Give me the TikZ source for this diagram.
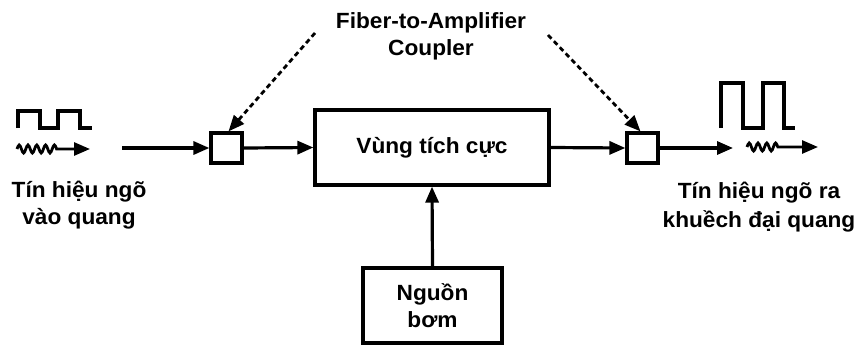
\documentclass[tikz,border=0pt]{standalone}
\usepackage{fontspec}
\setmainfont{Liberation Sans}[FakeStretch=1.03]
\usetikzlibrary{arrows.meta}
\begin{document}
\begin{tikzpicture}[x=1pt,y=-1pt,
  every node/.style={font=\fontsize{22}{27}\selectfont\bfseries},
  boxst/.style={draw,line width=3.2pt,inner sep=0pt},
  ln/.style={line width=3.2pt},
  arr/.style={ln,-{Triangle[length=16pt,width=13pt]}},
  darr/.style={line width=2.8pt,dash pattern=on 5pt off 3.5pt,-{Triangle[length=16pt,width=13pt]}},
  sq/.style={line width=2.8pt,-{Triangle[length=16pt,width=13pt]}},
  lbl/.style={align=center,inner sep=0pt}]
\useasboundingbox (0,0) rectangle (858,345);
% boxes
\node[boxst,minimum width=31pt,minimum height=30pt] (cL) at (226.5,148) {};
\node[boxst,minimum width=31pt,minimum height=30pt] (cR) at (642.5,148) {};
\node[boxst,minimum width=234pt,minimum height=75pt] (main) at (432,147.5) {Vùng tích cực};
\node[boxst,minimum width=139pt,minimum height=75pt,align=center] (pump) at (432.5,305.5) {Nguồn\\bơm};
% labels
\node[lbl] (coup) at (431,36) {Fiber-to-Amplifier\\Coupler};
\node[lbl] (inlbl) at (79,205) {Tín hiệu ngõ\\vào quang};
\node[lbl,font=\fontsize{22}{29}\selectfont\bfseries] (outlbl) at (759,207.5) {Tín hiệu ngõ ra\\khuềch đại quang};
% coordinates
\coordinate (inS) at (122,148);
\coordinate (outE) at (733,148);
\coordinate (dL) at (315,33);
\coordinate (dR) at (548,35);
\coordinate (sL1) at (17,149);
\coordinate (sL3) at (90,149);
\coordinate (sR1) at (747,147);
\coordinate (sR3) at (818,147);
% connectors
\draw[arr] (inS) -- (cL.west);
\draw[arr] (cL.east) -- (main.west);
\draw[arr] (main.east) -- (cR.west);
\draw[arr] (cR.east) -- (outE);
\draw[arr] (pump.north) -- (main.south);
\draw[darr] (dL) -- ([xshift=2pt]cL.north);
\draw[darr] (dR) -- ([xshift=-2pt]cR.north);
% waveforms
\draw[ln] (18,128) -- (18,111) -- (40,111) -- (40,128) -- (58,128) -- (58,111) -- (80,111) -- (80,128) -- (92,128);
\draw[ln] (721,128) -- (721,83) -- (743,83) -- (743,128) -- (763,128) -- (763,83) -- (784,83) -- (784,128) -- (795,128);
\draw[sq] (sL1) sin ++(2.2,-4) cos ++(2.2,4) sin ++(2.2,4) cos ++(2.2,-4)
  sin ++(2.2,-4) cos ++(2.2,4) sin ++(2.2,4) cos ++(2.2,-4)
  sin ++(2.2,-4) cos ++(2.2,4) sin ++(2.2,4) cos ++(2.2,-4)
  sin ++(2.2,-4) cos ++(2.2,4) sin ++(2.2,4) cos ++(2.2,-4)
  sin ++(2.2,-4) cos ++(2.2,4) -- (sL3);
\draw[sq] (sR1) sin ++(2.2,-4) cos ++(2.2,4) sin ++(2.2,4) cos ++(2.2,-4)
  sin ++(2.2,-4) cos ++(2.2,4) sin ++(2.2,4) cos ++(2.2,-4)
  sin ++(2.2,-4) cos ++(2.2,4) sin ++(2.2,4) cos ++(2.2,-4)
  sin ++(2.2,-4) cos ++(2.2,4) -- (sR3);
\end{tikzpicture}
\end{document}
